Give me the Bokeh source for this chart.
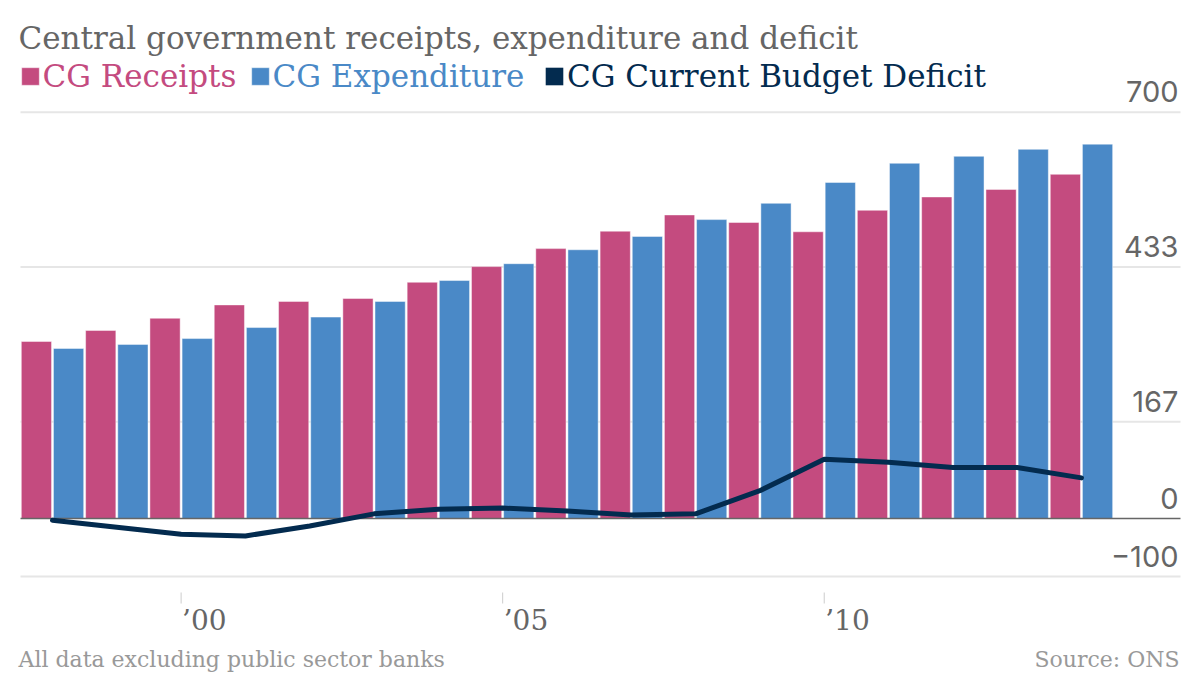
from bokeh.plotting import figure
from bokeh.models import (ColumnDataSource, Range1d, Label, Legend, LegendItem)
from bokeh.transform import dodge
from bokeh.embed import file_html
from bokeh.resources import INLINE

# ---- data ----
years = list(range(1998, 2015))
receipts = [305, 324, 345, 368, 374, 379, 407, 434, 465, 495, 523, 510, 494, 531, 554, 567, 593]
expenditure = [293, 300, 310, 329, 347, 374, 410, 439, 463, 486, 515, 543, 579, 612, 624, 636, 645]
deficit = [-3, -15, -27, -30, -13, 8, 16, 18, 13, 6, 8, 48, 102, 97, 88, 88, 70]

x_ticks = [2000, 2005, 2010]
x_tick_labels = ["\u201900", "\u201905", "\u201910"]
y_ticks = [700, 433.333, 166.667, -100]
y_tick_labels = ["700", "433", "167", "\u2212100"]
zero_tick = [0]
zero_label = ["0"]

series_names = ["CG Receipts", "CG Expenditure", "CG Current Budget Deficit"]
title_text = "Central government receipts, expenditure and deficit"
note_text = "All data excluding public sector banks"
source_text = "Source: ONS"

PINK = "#c44b7f"
BLUE = "#4a89c7"
NAVY = "#032b4f"
SERIF = "DejaVu Serif"
SANS = "Inter"

# ---- layout constants (pixels of the 1200x676 canvas) ----
W, H = 1200, 676
PX_PER_YEAR = 64.31
X_ORIGIN_PX = 52.0        # where the first year sits
Y_ZERO_PX = 518.0         # where value 0 sits
PX_PER_UNIT = 0.5804
BASE_FIX = 0.36           # em shift to land Bokeh's alphabetic baseline


def dx(px):
    return years[0] + (px - X_ORIGIN_PX) / PX_PER_YEAR


def dy(py):
    return (Y_ZERO_PX - py) / PX_PER_UNIT


X0, X1 = dx(0), dx(W)
Y0, Y1 = dy(H), dy(0)
GX0, GX1 = dx(20), dx(1180)      # horizontal extent of the plotting area

src = ColumnDataSource(dict(year=years, receipts=receipts,
                            expenditure=expenditure, deficit=deficit))
grid_src = ColumnDataSource(dict(y=y_ticks, x0=[GX0] * len(y_ticks), x1=[GX1] * len(y_ticks)))
zero_src = ColumnDataSource(dict(y=zero_tick, x0=[GX0], x1=[GX1]))
xt_src = ColumnDataSource(dict(x=x_ticks, y0=[dy(592)] * len(x_ticks), y1=[dy(603)] * len(x_ticks)))

p = figure(width=W, height=H, output_backend="svg", toolbar_location=None,
           x_range=Range1d(X0, X1), y_range=Range1d(Y0, Y1),
           x_axis_location=None, y_axis_location=None, min_border=0)
p.title.visible = False
p.outline_line_color = None
p.grid.visible = False
p.background_fill_color = "white"
p.border_fill_color = "white"

# gridlines and x tick marks
p.segment(x0="x0", x1="x1", y0="y", y1="y", source=grid_src,
          line_color="#e6e6e6", line_width=2)
p.segment(x0="x", x1="x", y0="y0", y1="y1", source=xt_src,
          line_color="#cccccc", line_width=1)

# bars
rb = p.vbar(x=dodge("year", -0.25, range=p.x_range), top="receipts", bottom=0,
            width=0.47, source=src, fill_color=PINK, line_color="white",
            line_alpha=0.45, line_width=1)
eb = p.vbar(x=dodge("year", 0.25, range=p.x_range), top="expenditure", bottom=0,
            width=0.47, source=src, fill_color=BLUE, line_color="white",
            line_alpha=0.45, line_width=1)

# zero line
p.segment(x0="x0", x1="x1", y0="y", y1="y", source=zero_src,
          line_color="#666666", line_width=1.5)

ln = p.line("year", "deficit", source=src, line_color=NAVY, line_width=5,
            line_cap="round", line_join="round")
# legend swatch for the deficit line: zero-height bars (draw nothing on the plot)
proxy = p.vbar(x="year", top=0, bottom=0, width=0.47, source=src,
               fill_color=NAVY, line_color=None)


def label(x, ypx, text, font, size, color, align="left", x_offset=0):
    p.add_layout(Label(x=x, y=dy(ypx - BASE_FIX * size), text=text, text_align=align,
                       text_baseline="alphabetic", x_offset=x_offset,
                       text_font=font, text_font_size=f"{size}px", text_color=color))


# y tick labels (right, sitting above their gridline)
for t, lab in zip(y_ticks + zero_tick, y_tick_labels + zero_label):
    label(GX1, Y_ZERO_PX - t * PX_PER_UNIT - 10, lab, SANS, 29, "#666666",
          align="right", x_offset=-2)

# x tick labels
for t, lab in zip(x_ticks, x_tick_labels):
    label(t, 630, lab, SERIF, 28, "#666666", x_offset=1)

# title
label(dx(18), 49, title_text, SERIF, 31, "#666666")
# footer
label(dx(18), 667, note_text, SERIF, 22, "#999999")
label(dx(1179), 667, source_text, SERIF, 22, "#999999", align="right")

# legends (one per series so each label has its series colour)
leg_x = [18.5, 248.5, 543]
for name, r, c, lx in zip(series_names, [rb, eb, proxy], [PINK, BLUE, NAVY], leg_x):
    leg = Legend(items=[LegendItem(label=name, renderers=[r])], location=(lx, H - 94),
                 orientation="horizontal", label_text_color=c, label_text_font=SERIF,
                 label_text_font_size="31px", glyph_width=22, glyph_height=22,
                 label_standoff=2, padding=0, margin=0, spacing=0,
                 background_fill_alpha=0, border_line_alpha=0)
    p.add_layout(leg)

open("out.html", "w").write(file_html(p, INLINE))
